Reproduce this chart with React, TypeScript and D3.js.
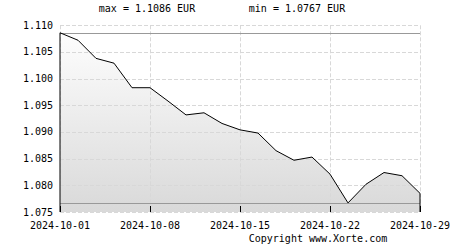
import React from "react";
import * as d3 from "d3";

const values: number[] = [
  1.1086, 1.1072, 1.1038, 1.1029, 1.0983, 1.0983, 1.0958, 1.0932, 1.0936, 1.0916,
  1.0904, 1.0898, 1.0865, 1.0847, 1.0853, 1.0821, 1.0767, 1.0802, 1.0824, 1.0818,
  1.0785,
];
const xTickIndex: number[] = [0, 5, 10, 15, 20];
const xTickLabels: string[] = ["2024-10-01", "2024-10-08", "2024-10-15", "2024-10-22", "2024-10-29"];
const yTicks: number[] = [1.075, 1.08, 1.085, 1.09, 1.095, 1.1, 1.105, 1.11];
const maxLabel = "max = 1.1086 EUR";
const minLabel = "min = 1.0767 EUR";
const copyright = "Copyright www.Xorte.com";

export default function App() {
  const W = 450, H = 250;
  const left = 60, right = 420, top = 25.3, bottom = 212;
  const x = d3.scaleLinear().domain([0, values.length - 1]).range([left, right]);
  const y = d3.scaleLinear().domain([1.075, 1.11]).range([bottom, top]);
  const maxV = d3.max(values)!;
  const minV = d3.min(values)!;

  const line = d3.line<number>().x((_, i) => x(i)).y((d) => y(d));
  const area = d3.area<number>().x((_, i) => x(i)).y0(bottom).y1((d) => y(d));
  const outline = `M${x(0)},${bottom}L` + line(values)!.slice(1) + `L${x(values.length - 1)},${bottom}`;

  const font = "'DejaVu Sans Mono', monospace";
  return (
    <div style={{ position: "absolute", left: 0, top: 0 }}>
      <svg width={W} height={H} style={{ display: "block", background: "#fff" }}>
        <defs>
          <linearGradient id="fillg" x1="0" y1={top} x2="0" y2={bottom} gradientUnits="userSpaceOnUse">
            <stop offset="0" stopColor="#ffffff" />
            <stop offset="1" stopColor="#d9d9d9" />
          </linearGradient>
        </defs>
        <path d={area(values)!} fill="url(#fillg)" />
        {yTicks.map((t) => (
          <line key={"gy" + t} x1={left} x2={right} y1={Math.round(y(t)) + 0.5} y2={Math.round(y(t)) + 0.5}
            stroke="#d8d8d8" strokeDasharray="4,2" strokeWidth={1} />
        ))}
        {xTickIndex.map((t) => (
          <line key={"gx" + t} x1={Math.round(x(t)) + 0.5} x2={Math.round(x(t)) + 0.5} y1={top} y2={bottom}
            stroke="#d8d8d8" strokeDasharray="4,2" strokeWidth={1} />
        ))}
        <line x1={left} x2={right} y1={Math.round(y(maxV)) + 0.5} y2={Math.round(y(maxV)) + 0.5} stroke="#999" />
        <line x1={left} x2={right} y1={Math.round(y(minV)) + 0.5} y2={Math.round(y(minV)) + 0.5} stroke="#999" />
        {xTickIndex.map((t) => (
          <line key={"tk" + t} x1={Math.round(x(t)) + 0.5} x2={Math.round(x(t)) + 0.5} y1={bottom - 6} y2={bottom}
            stroke="#000" strokeWidth={1} />
        ))}
        <path d={outline} fill="none" stroke="#000" strokeWidth={1} />
        {yTicks.map((t) => (
          <text key={"yl" + t} x={53} y={y(t)} dy="0.35em" textAnchor="end" fontFamily={font} fontSize={10} fill="#000">
            {t.toFixed(3)}
          </text>
        ))}
        {xTickIndex.map((t, i) => (
          <text key={"xl" + t} x={x(t)} y={229} textAnchor="middle" fontFamily={font} fontSize={10} fill="#000">
            {xTickLabels[i]}
          </text>
        ))}
        <text x={147} y={12} textAnchor="middle" fontFamily={font} fontSize={10} fill="#000">{maxLabel}</text>
        <text x={297} y={12} textAnchor="middle" fontFamily={font} fontSize={10} fill="#000">{minLabel}</text>
        <text x={318} y={242} textAnchor="middle" fontFamily={font} fontSize={10} fill="#000">{copyright}</text>
      </svg>
    </div>
  );
}
